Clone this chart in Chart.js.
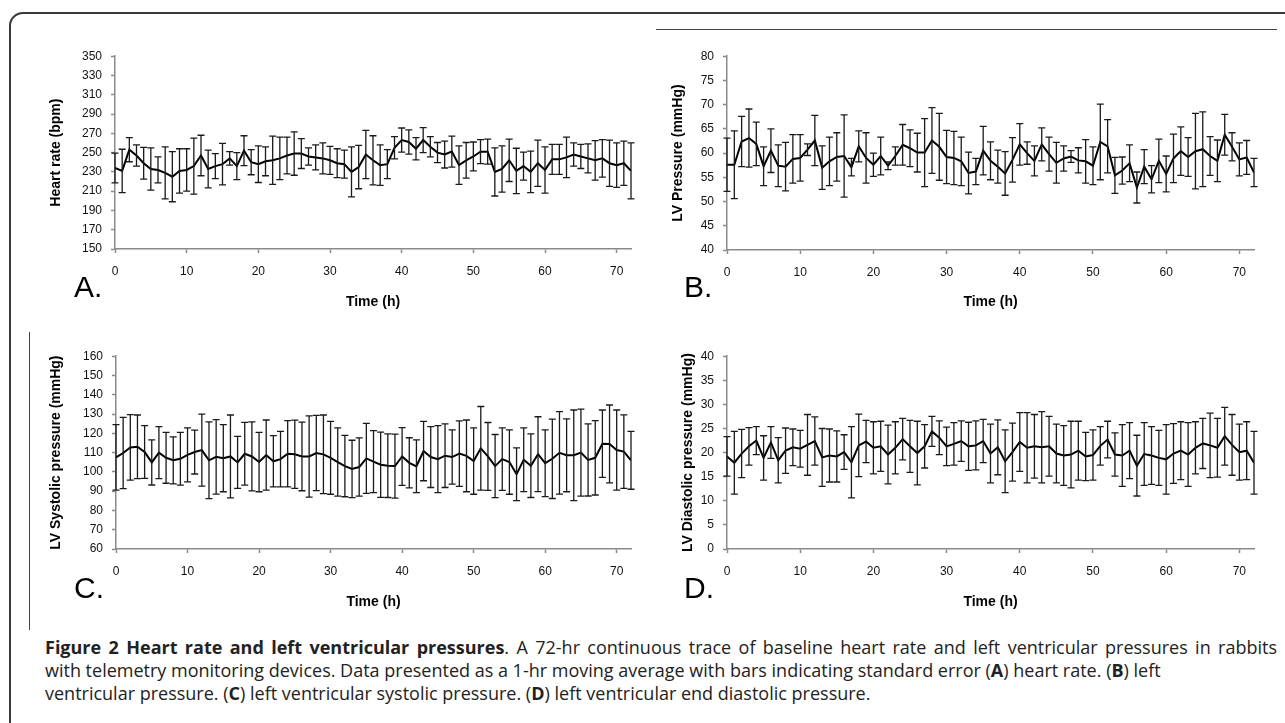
<!DOCTYPE html>
<html>
<head>
<meta charset="utf-8">
<script src="https://cdn.jsdelivr.net/npm/chart.js@4.4.1/dist/chart.umd.min.js"></script>
<style>
  html, body { margin: 0; padding: 0; background: #fff; }
  body { width: 1285px; height: 723px; position: relative; overflow: hidden; font-family: 'Liberation Sans', Arial, sans-serif; }
  #frame { position: absolute; left: 9px; top: 12px; width: 1300px; height: 800px; border: 2px solid #3a3a3a; border-top-left-radius: 14px; }
  #topRule { position: absolute; left: 656px; top: 29px; width: 621px; height: 1px; background: #444; }
  #sideRule { position: absolute; left: 29px; top: 332px; width: 1px; height: 298px; background: #444; }
  .panel { position: absolute; }
  .letter { position: absolute; font-size: 30px; line-height: 30px; color: #000; }
  #caption { position: absolute; left: 45px; top: 636px; width: 1232px; font-family: 'Open Sans', sans-serif; font-size: 18px; line-height: 23px; color: #222; white-space: nowrap; }
  #caption .l1 { text-align: justify; text-align-last: justify; white-space: normal; }
</style>
</head>
<body>
<div id="frame"></div>
<div id="topRule"></div>
<div id="sideRule"></div>

<div class="panel" style="left:20px;top:40px;width:620px;height:280px"><canvas id="chartA"></canvas></div>
<div class="panel" style="left:640px;top:40px;width:630px;height:280px"><canvas id="chartB"></canvas></div>
<div class="panel" style="left:20px;top:340px;width:620px;height:280px"><canvas id="chartC"></canvas></div>
<div class="panel" style="left:640px;top:340px;width:630px;height:280px"><canvas id="chartD"></canvas></div>

<div class="letter" style="left:74px;top:272px">A.</div>
<div class="letter" style="left:684px;top:272px">B.</div>
<div class="letter" style="left:74px;top:573px">C.</div>
<div class="letter" style="left:684px;top:573px">D.</div>

<div id="caption"><div class="l1"><b>Figure 2 Heart rate and left ventricular pressures</b>. A 72-hr continuous trace of baseline heart rate and left ventricular pressures in rabbits</div><div>with telemetry monitoring devices. Data presented as a 1-hr moving average with bars indicating standard error (<b>A</b>) heart rate. (<b>B</b>) left</div><div>ventricular pressure. (<b>C</b>) left ventricular systolic pressure. (<b>D</b>) left ventricular end diastolic pressure.</div></div>

<script>
// --- DATA (1-hr moving average, error = standard error) ---
const hours = [0,1,2,3,4,5,6,7,8,9,10,11,12,13,14,15,16,17,18,19,20,21,22,23,24,25,26,27,28,29,30,31,32,33,34,35,
  36,37,38,39,40,41,42,43,44,45,46,47,48,49,50,51,52,53,54,55,56,57,58,59,60,61,62,63,64,65,66,67,68,69,70,71,72];

// A. heart rate (bpm)
const hrMean = [234,231,253,247,239,233,232,229,225,231, 232,236,247,233,236,238,244,236,252,240,
  238,241,242,244,247,249,249,246,245,244, 242,239,238,230,235,248,242,237,238,255,
  263,261,254,263,256,250,248,251,237,242, 246,251,251,230,233,242,231,236,230,239,
  232,243,243,245,248,246,244,242,244,239, 237,239,231];
const hrErr = [15.5,22.5,12.5,11,16.5,22,13.5,27,26,23, 22,29,21,19.5,13,21.5,7,14,15.5,13,
  19,15,25,22,19,22.5,15.5,9,13,16, 14.5,15,14.5,26,22.5,25,25.5,21,15,11.5,
  12.5,12.5,11.5,13,10.5,10.5,14,16,20,18.5, 15,12.5,13,25,24,22,23.5,14.5,21.5,24,
  24,15.5,15.5,21,12,12.5,15,20.5,19.5,24, 23,23,29];

// B. LV pressure (mmHg)
const lvpMean = [57.6,57.6,62.4,63.1,61.9,57.3,60.5,57.4,57.2,58.8, 59.0,60.7,62.6,57.0,58.3,59.2,59.4,57.1,61.4,59.0,
  57.6,59.4,57.4,59.4,61.7,61.0,60.1,60.1,62.6,61.3, 59.2,59.0,58.3,55.9,56.2,60.5,58.4,57.2,55.8,58.6,
  61.8,60.0,58.4,61.8,59.8,58.0,58.9,59.3,58.5,58.3, 57.4,62.3,61.4,55.4,56.4,57.9,52.9,57.2,54.6,58.4,
  55.7,58.9,60.4,59.2,60.4,60.8,59.4,58.4,63.8,61.3, 58.7,59.1,56.0];
const lvpErr = [5.5,7,5.2,6,4.5,4,4.5,4.3,5,5, 4.8,1.2,5.2,4.5,5,5,8.5,1.8,3.2,5.2,
  2.4,3.9,0.8,1.9,4.2,3.8,4,7,6.8,6.9, 5.5,5.5,5,4.3,2.7,5,3.9,3.4,4.5,4.6,
  4.3,2.3,3.1,3.4,3.5,4.2,2.6,1.2,2.6,4.5, 3.9,7.8,5.5,3.7,2.8,3.8,3.2,3.5,2.8,4.5,
  3.7,5,5,4,7.8,7.7,4,4.3,4.2,2.9, 3.4,3.5,2.9];

// C. LV systolic pressure (mmHg)
const lvsMean = [107.5,109.8,112.7,113,110.3,104.9,110,107.3,106,106.8, 108.8,110.3,111.3,106,107.8,107.1,108,104.9,109.4,108,
  105.1,108.7,105.5,106.6,109.4,109.1,108,108,109.8,109.1, 107.3,105.1,103,101.5,102.5,107,105.3,103.7,103.2,103,
  108,104.7,102.9,110.8,107.7,106.6,108.4,107.7,109.5,108.3, 105.6,112.2,108,103,106.6,105.1,98.8,106.3,103.2,109.2,
  104.5,106.8,109.9,108.6,108.6,110,106.2,107.3,114.6,114.5, 111.3,110.5,106];
const lvsErr = [17,18.5,17,16.5,13.7,11.7,13.5,13.2,12.2,13.7, 14,11.4,18.7,19.9,19.3,17.4,21.5,13.5,16.3,17.9,
  15.4,18.2,13.3,14.4,17.2,17.7,17.8,21.1,19.5,20.4, 18.9,17.7,15.9,14.9,15.1,18.2,16.1,16.9,16.5,16.6,
  15,13,13.7,15.4,15.8,17.4,16.5,14.1,17,18.6, 17.2,21.7,17.6,16.4,16.2,16.7,13.7,16.5,16.5,19.4,
  17.3,20.6,21.4,18.9,23.5,22.6,18.7,19.3,17.5,20.2, 20.8,19.1,15];

// D. LV end diastolic pressure (mmHg)
const lvdMean = [19.2,17.9,19.8,21.3,22.5,18.9,22.1,18.4,20.4,21.1, 20.8,21.6,22.4,19,19.4,19.2,20.1,18,21.5,22.3,
  21,21.3,19.6,21,22.8,21.3,19.9,21.3,24.4,23.1, 21.3,21.8,22.4,21.3,21.5,22.4,19.8,21.1,18.2,20.1,
  22.2,21,21.3,21.1,21.3,19.8,19.4,19.6,20.4,19.2, 19.5,21.4,22.7,19.6,19.4,20.4,17.3,19.7,19.4,18.9,
  18.6,19.8,20.4,19.6,21,21.9,21.5,21,23.4,21.6, 20.1,20.4,17.9];
const lvdErr = [4.1,6.5,5,3.9,2.9,4.6,3.3,4.7,4.7,3.8, 3.8,6.3,5,6,5.5,5.3,3.6,7.4,6.5,4.4,
  5.4,5.2,6.1,5.4,4.3,5.4,6.6,4.5,3.1,3.5, 4,4.4,4.2,5,5.1,4.5,6.1,5.7,6.5,6,
  6.1,7.3,6.6,7.4,6.2,6.1,6.2,6.9,6.1,5, 5.2,4,3.8,4.5,6.4,5.8,6.3,6.5,6,5.7,
  7.2,6.2,6,6.6,5.4,5.2,6.7,6.1,6,6.3, 5.8,6,6.5];

Chart.defaults.font.family = "'Liberation Sans', Arial, sans-serif";
Chart.defaults.color = '#000';

// draws mean +/- SE bars with caps, using the chart's own scales
const errorBars = {
  id: 'errorBars',
  afterDatasetsDraw(chart) {
    const ctx = chart.ctx;
    const xs = chart.scales.x, ys = chart.scales.y;
    const ds = chart.data.datasets[0];
    ctx.save();
    ctx.strokeStyle = '#1a1a1a';
    ctx.lineWidth = 1.3;
    ds.data.forEach((v, i) => {
      const px = xs.getPixelForValue(chart.data.labels[i]);
      const top = ys.getPixelForValue(v + ds.errors[i]);
      const bot = ys.getPixelForValue(v - ds.errors[i]);
      ctx.beginPath();
      ctx.moveTo(px, top); ctx.lineTo(px, bot);
      ctx.moveTo(px - 3.5, top); ctx.lineTo(px + 3.5, top);
      ctx.moveTo(px - 3.5, bot); ctx.lineTo(px + 3.5, bot);
      ctx.stroke();
    });
    ctx.restore();
  }
};

function makePanel(id, mean, err, yMin, yMax, yStep, yTitle, g) {
  const axisGray = '#8a8a8a';
  return new Chart(document.getElementById(id), {
    type: 'line',
    data: {
      labels: hours,
      datasets: [{
        data: mean,
        errors: err,
        borderColor: '#000',
        borderWidth: 2,
        pointRadius: 0,
        tension: 0,
        fill: false
      }]
    },
    options: {
      responsive: true,
      maintainAspectRatio: false,
      animation: false,
      layout: { padding: { top: g.padTop, right: g.padRight, left: 0, bottom: 0 } },
      plugins: { legend: { display: false }, tooltip: { enabled: false } },
      scales: {
        x: {
          type: 'linear',
          min: 0, max: 72,
          afterFit: s => { s.height = g.xH; },
          border: { display: true, color: axisGray, width: 1.5 },
          grid: { drawOnChartArea: false, drawTicks: true, tickLength: 4, color: axisGray, tickWidth: 1.5 },
          ticks: { stepSize: 10, includeBounds: false, maxRotation: 0, autoSkip: false, padding: 11,
                   font: { size: 12 }, color: '#111' },
          title: { display: true, text: 'Time (h)', font: { size: 14, weight: 'bold' },
                   padding: { top: 0, bottom: 9.6 } }
        },
        y: {
          min: yMin, max: yMax,
          afterFit: s => { s.width = g.yW; },
          border: { display: true, color: axisGray, width: 1.5 },
          grid: { drawOnChartArea: false, drawTicks: true, tickLength: 4, color: axisGray, tickWidth: 1.5 },
          ticks: { stepSize: yStep, padding: 9, font: { size: 12 }, color: '#111' },
          title: { display: true, text: yTitle, font: { size: 14, weight: 'bold' },
                   padding: { top: g.titlePad, bottom: 0 } }
        }
      }
    },
    plugins: [errorBars]
  });
}

makePanel('chartA', hrMean, hrErr, 150, 350, 20, 'Heart rate (bpm)',
  { padTop: 15, padRight: 9, yW: 95, xH: 71, titlePad: 27.6 });
makePanel('chartB', lvpMean, lvpErr, 40, 80, 5, 'LV Pressure (mmHg)',
  { padTop: 16, padRight: 16, yW: 87, xH: 70, titlePad: 29.6 });
makePanel('chartC', lvsMean, lvsErr, 60, 160, 10, 'LV Systolic pressure (mmHg)',
  { padTop: 15, padRight: 9, yW: 96, xH: 71, titlePad: 27.6 });
makePanel('chartD', lvdMean, lvdErr, 0, 40, 5, 'LV Diastolic pressure (mmHg)',
  { padTop: 15, padRight: 16, yW: 87, xH: 71, titlePad: 39.6 });
</script>
</body>
</html>
